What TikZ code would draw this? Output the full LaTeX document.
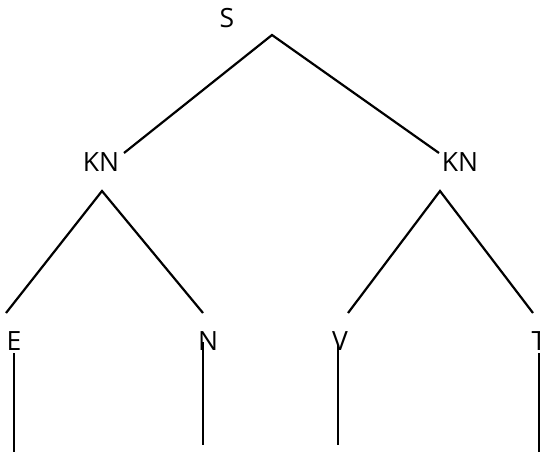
\documentclass[tikz,border=0pt]{standalone}
\usepackage{fontspec}
\setmainfont{Open Sans}
\begin{document}
\begin{tikzpicture}[x=1pt,y=-1pt,line width=2.2pt,
    lbl/.style={font=\fontsize{26.5}{30}\selectfont,inner sep=0pt}]
  \useasboundingbox (0,0) rectangle (540,452);

  % Labels
  \node[lbl] (s)   at (227,18.5) {S};
  \node[lbl] (kn1) at (101,162) {KN};
  \node[lbl] (kn2) at (460,162) {KN};
  \node[lbl] (e) at (14,341) {E};
  \node[lbl] (n) at (208,341) {N};
  \node[lbl] (v) at (340,341) {V};
  \node[lbl] (t) at (539,341) {T};

  % Branch points
  \coordinate (s-top) at (272,35);
  \coordinate (kn1-in) at (124,153);
  \coordinate (kn2-in) at (439,153);
  \coordinate (kn1-top) at (102,191);
  \coordinate (kn2-top) at (440,191);
  \coordinate (e-in) at (6,313);
  \coordinate (n-in) at (203,313);
  \coordinate (v-in) at (348,313);
  \coordinate (t-in) at (533,313);

  % Upper branches
  \draw (kn1-in) -- (s-top) -- (kn2-in);
  \draw (e-in) -- (kn1-top) -- (n-in);
  \draw (v-in) -- (kn2-top) -- (t-in);

  % Stems below the leaves
  \draw (14,353) -- (14,452);
  \draw (203,342) -- (203,445);
  \draw (338,345) -- (338,445);
  \draw (539,353) -- (539,452);
\end{tikzpicture}
\end{document}
